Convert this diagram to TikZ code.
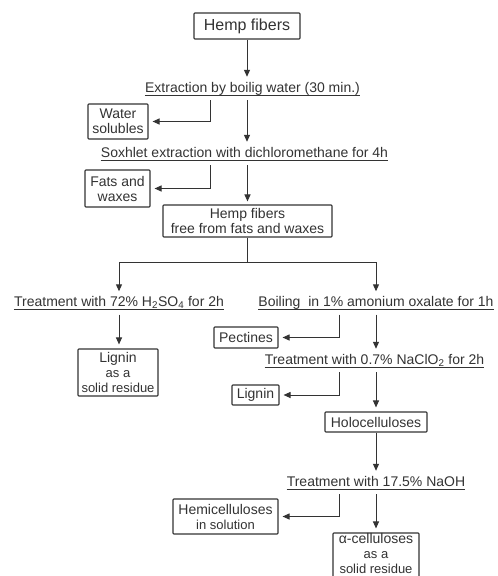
\documentclass[tikz,border=0pt]{standalone}
\usepackage{fontspec}
\setmainfont{Liberation Sans}
\usetikzlibrary{arrows.meta,calc}
\definecolor{ink}{HTML}{333333}
\newcommand{\fA}{\fontsize{14}{15}\selectfont}
\newcommand{\fB}{\fontsize{13}{13.5}\selectfont}
\newcommand{\fC}{\fontsize{13}{12}\selectfont}
\begin{document}
\begin{tikzpicture}[x=1pt,y=-1pt,
  box/.style={draw=ink, line width=1.1pt, rounded corners=0.8pt, inner sep=0pt, align=center, text=ink, font=\fA},
  lbl/.style={inner xsep=0pt, inner ysep=5pt, text height=10pt, text depth=3pt, text=ink, font=\fA, anchor=base,
    append after command={([yshift=-3pt]\tikzlastnode.base west) edge[draw=ink,line width=0.9pt,-] ([yshift=-3pt]\tikzlastnode.base east)}},
  arr/.style={draw=ink, line width=1pt, -{Triangle[length=7pt,width=6pt]}},
  ln/.style={draw=ink, line width=1pt},
  tobox/.style={arr, shorten >=4pt}
]
\useasboundingbox (0,0) rectangle (498,576);
\fill[white] (0,0) rectangle (498,576);

\coordinate (lx) at (210,0);
\coordinate (rx) at (339,0);

\node[box, font=\fontsize{16}{16}\selectfont, minimum width=106pt, minimum height=26pt] (hemp) at (247,26) {Hemp fibers};
\node[lbl] (extr) at (252.5,92) {Extraction by boilig water (30 min.)};
\node[box, minimum width=60pt, minimum height=35pt] (water) at (118,121.5) {Water\\solubles};
\node[lbl] (sox) at (244.5,157) {Soxhlet extraction with dichloromethane for 4h};
\node[box, minimum width=65pt, minimum height=37pt] (fats) at (117.5,188.5) {Fats and\\waxes};
\node[box, minimum width=169pt, minimum height=32pt] (free) at (247.5,221) {Hemp fibers\\free from fats and waxes};
\coordinate (split) at (247.5,262);
\node[lbl] (h2so4) at (119,306.5) {Treatment with 72\% H\textsubscript{2}SO\textsubscript{4} for 2h};
\node[lbl] (oxal) at (376,306.5) {Boiling\ \ in 1\% amonium oxalate for 1h};
\node[box, minimum width=80pt, minimum height=47pt] (lig1) at (118,372.5) {Lignin\\\fB as a\\\fB solid residue};
\node[box, minimum width=64pt, minimum height=21pt] (pect) at (246,337.5) {Pectines};
\node[lbl] (naclo) at (374.5,364) {Treatment with 0.7\% NaClO\textsubscript{2} for 2h};
\node[box, minimum width=47pt, minimum height=20pt] (lig2) at (255.5,395) {Lignin};
\node[box, minimum width=102pt, minimum height=20pt] (holo) at (376,422) {Holocelluloses};
\node[lbl] (naoh) at (376,486) {Treatment with 17.5\% NaOH};
\node[box, minimum width=105pt, minimum height=35pt] (hemi) at (225.5,516.5) {Hemicelluloses\\\fB in solution};
\node[box, minimum width=86pt, minimum height=47pt] (alpha) at (376,556.5) {};
\node[inner sep=0pt, align=center, text=ink, font=\fA] (alphatext) at (376,553) {α-celluloses\\\fC as a\\\fC solid residue};

\draw[arr] (hemp.south) -- (hemp.south |- extr.north);
\draw[arr] (extr.south -| hemp) -- (hemp |- sox.north);
\draw[tobox] (extr.south -| lx) |- (water.east);
\draw[arr] (sox.south -| free) -- ([yshift=3pt]free.north);
\draw[tobox] (sox.south -| lx) |- (fats.east);
\draw[ln] (free.south) -- (split);
\draw[arr] (split) -| (h2so4.north);
\draw[arr] (split) -| (oxal.north);
\draw[tobox] (h2so4.south) -- (h2so4.south |- lig1.north);
\draw[tobox] (oxal.south -| rx) |- (pect.east);
\draw[arr] (oxal.south) -- (oxal.south |- naclo.north);
\draw[tobox] (naclo.south -| rx) |- (lig2.east);
\draw[tobox] (naclo.south -| holo) -- (holo.north);
\draw[arr] (holo.south) -- (holo.south |- naoh.north);
\draw[tobox] (naoh.south -| rx) |- (hemi.east);
\draw[tobox] (naoh.south -| alpha) -- (alpha.north);
\end{tikzpicture}
\end{document}
